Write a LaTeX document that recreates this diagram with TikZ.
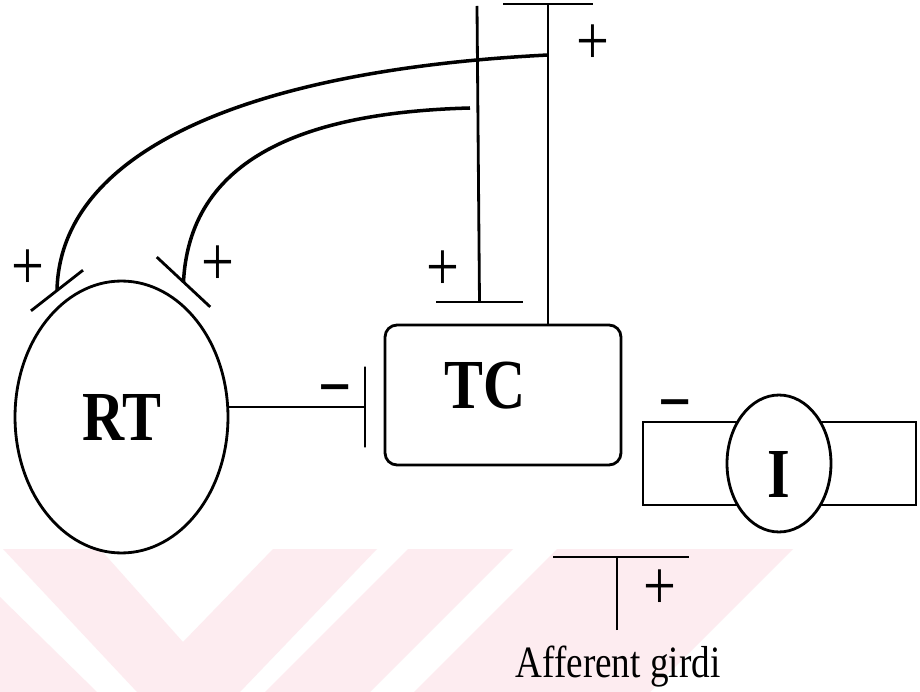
\documentclass[tikz,border=0pt]{standalone}
\usepackage{fontspec}
\setmainfont{Liberation Serif}
\newfontfamily\scanfont[FakeStretch=0.83]{Liberation Serif}
\usetikzlibrary{shapes.geometric}

\definecolor{wmpink}{RGB}{253,236,240}

\tikzset{
  cellname/.style={font=\scanfont\fontsize{40}{40}\selectfont\bfseries},
  sgn/.style={font=\scanfont\fontsize{40}{40}\selectfont, inner sep=0pt, anchor=base},
  synbar/.style={draw, inner sep=0pt, outer sep=0pt, minimum height=0pt},
}

\begin{document}
\begin{tikzpicture}[x=0.02cm, y=-0.02cm, line width=1.6pt]

% page, with the faint watermark at the bottom
\fill[white] (0,0) rectangle (920,692);
\useasboundingbox (0,0) rectangle (920,692);
\fill[wmpink] (0,597) -- (0,692) -- (97,692) -- cycle;
\fill[wmpink] (3,549) -- (100,549) -- (183,642) -- (273,549) -- (377,549) -- (240,692) -- (137,692) -- cycle;
\fill[wmpink] (408,549) -- (513,549) -- (370,692) -- (265,692) -- cycle;
\fill[wmpink] (557,549) -- (793,549) -- (650,692) -- (414,692) -- cycle;

% RT cell, left
\node[draw, ellipse, minimum width=4.26cm, minimum height=5.44cm, cellname] (RT) at (121.5,417) {RT};

% TC cell, middle
\node[draw, rounded corners=0.24cm, minimum width=4.72cm, minimum height=2.8cm,
  label={[cellname, xshift=-0.36cm, yshift=0.18cm]center:TC}] (TC) at (503,395) {};

% interneuron I on its band, right
\draw (643,422) rectangle (916,505);
\node[draw, ellipse, fill=white, minimum width=2.08cm, minimum height=2.74cm,
  label={[cellname, yshift=-0.21cm]center:I}] (I) at (779,463.5) {};
\node[sgn, font=\scanfont\fontsize{40}{40}\selectfont\bfseries] (mI) at (675,426) {−};

% RT inhibits TC
\node[synbar, minimum width=1.62cm, rotate=90] (inh) at (365,407) {};
\draw (inh.center) -- (inh.center -| RT.east);
\node[sgn, font=\scanfont\fontsize{40}{40}\selectfont\bfseries] (mTC) at (335,411) {−};

% TC output up, and the line coming down onto TC
\node[synbar, minimum width=1.8cm] (barB) at (548,4) {};
\draw (barB.center) -- (barB.center |- TC.north);
\node[sgn] (pB) at (593,65) {+};
\coordinate (Atop) at (477,6);
\node[synbar, minimum width=1.74cm] (barA) at (479.5,302) {};
\draw (Atop) -- (barA.center);
\node[sgn] (pA) at (443,291) {+};

% feedback arcs onto RT
\node[synbar, minimum width=1.32cm, rotate=38] (synL) at (57,290.5) {};
\node[synbar, minimum width=1.46cm, rotate=-43] (synR) at (183.5,282) {};
\coordinate (split) at (548,55);
\coordinate (loose) at (470,108);
\draw[line width=2pt] (split) .. controls (250,70) and (60,150) .. (synL.center);
\draw[line width=2pt] (loose) .. controls (320,112) and (190,150) .. (synR.center);
\node[sgn] (pL) at (28,290) {+};
\node[sgn] (pR) at (218,286) {+};

% afferent input
\node[synbar, minimum width=2.72cm] (affbar) at (621,557) {};
\coordinate (affin) at (617,630);
\draw (affin) -- (affin |- affbar.center);
\node[sgn] (pAff) at (660,609) {+};
\node[font=\scanfont\fontsize{25.5}{25.5}\selectfont, anchor=base] (aff) at (618,677) {Afferent girdi};

\end{tikzpicture}
\end{document}
